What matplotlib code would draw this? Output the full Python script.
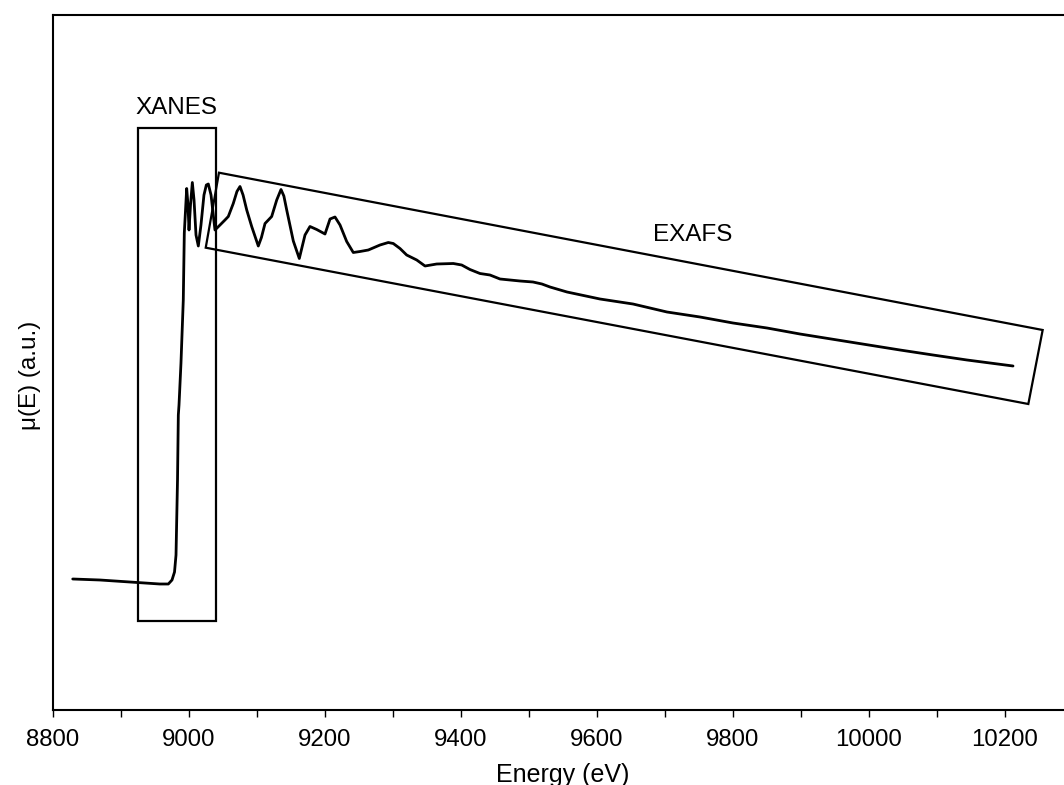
import matplotlib as mpl
mpl.use("Agg")
import matplotlib.pyplot as plt
from matplotlib.patches import Polygon, Rectangle
from matplotlib.ticker import MultipleLocator, NullLocator

mpl.rcParams["font.family"] = ["Liberation Sans", "DejaVu Sans"]

# spectrum (energy in eV, mu in arbitrary units)
energy = [8829, 8869, 8913, 8957, 8969.6, 8975, 8978.7, 8980.9, 8983.1, 8984.3,
          8985.3, 8986, 8988.2, 8991.6, 8993.1, 8996.6, 8998.5, 9000, 9002.2, 9004.9,
          9007.4, 9010.3, 9013.7, 9017.6, 9022, 9025.5, 9028.4, 9032.4, 9038.2, 9045.6,
          9052.9, 9057.8, 9065.1, 9070.5, 9075, 9079.5, 9084.9, 9092.2, 9101.9, 9106.5,
          9111.8, 9121.6, 9129, 9135.3, 9139.5, 9143.7, 9153.4, 9162.2, 9170.6, 9177.9,
          9187.8, 9200, 9207.4, 9214.7, 9222.1, 9231.9, 9241.6, 9251.5, 9263.7, 9280.9,
          9293.1, 9300.4, 9310.3, 9320.1, 9334.9, 9347.1, 9364.3, 9388.7, 9401, 9413.2,
          9427.9, 9442.6, 9457.4, 9486.8, 9505.9, 9519, 9530.9, 9555.9, 9604.4, 9652.9,
          9702.9, 9751.5, 9800, 9850, 9898.5, 9972, 10045.6, 10094.1, 10144.1, 10211.8]
mu = [0.262, 0.260, 0.256, 0.252, 0.252, 0.260, 0.276, 0.31, 0.46, 0.59,
      0.61, 0.63, 0.694, 0.82, 0.954, 1.043, 1.01, 0.96, 1.01, 1.055,
      1.02, 0.95, 0.928, 0.97, 1.03, 1.05, 1.052, 1.03, 0.96, 0.97,
      0.98, 0.987, 1.013, 1.037, 1.047, 1.03, 1.0, 0.967, 0.928, 0.945,
      0.973, 0.987, 1.02, 1.041, 1.028, 1.0, 0.938, 0.903, 0.95, 0.967,
      0.961, 0.952, 0.982, 0.986, 0.97, 0.937, 0.915, 0.917, 0.92, 0.93,
      0.935, 0.933, 0.923, 0.91, 0.9, 0.888, 0.892, 0.893, 0.89, 0.881,
      0.873, 0.87, 0.862, 0.858, 0.856, 0.852, 0.846, 0.836, 0.822, 0.812,
      0.796, 0.786, 0.774, 0.764, 0.752, 0.736, 0.72, 0.71, 0.70, 0.688]

# region boxes
xanes_box = (8924.6, 0.178, 9039.7 - 8924.6, 1.1646 - 0.178)  # x, y, w, h
exafs_box = [(9044.1, 1.0746), (10255.4, 0.76), (10234.3, 0.612), (9024.6, 0.9246)]

fig = plt.figure(figsize=(10.64, 7.85), dpi=100)
ax = fig.add_axes([53 / 1064, 75 / 785, 1020 / 1064, 695 / 785])

ax.plot(energy, mu, color="black", lw=2.0, solid_joinstyle="round",
        solid_capstyle="round")

ax.add_patch(Rectangle(xanes_box[:2], xanes_box[2], xanes_box[3],
                       fill=False, ec="black", lw=1.6))
ax.add_patch(Polygon(exafs_box, closed=True, fill=False, ec="black", lw=1.6))

ax.text(8980.9, 1.204, "XANES", fontsize=17.5, ha="center", va="center")
ax.text(9740.4, 0.95, "EXAFS", fontsize=17.5, ha="center", va="center")

ax.set_xlim(8800, 10300)
ax.set_ylim(0, 1.39)
ax.xaxis.set_major_locator(MultipleLocator(200))
ax.xaxis.set_minor_locator(MultipleLocator(100))
ax.yaxis.set_major_locator(NullLocator())
ax.tick_params(axis="x", which="both", direction="out", length=5, width=1.0,
               labelsize=17.3, pad=8.5)
for s in ax.spines.values():
    s.set_linewidth(1.5)
ax.spines["right"].set_visible(False)

fig.text(563 / 1064, 1 - 782 / 785, "Energy (eV)", fontsize=18,
         ha="center", va="baseline")
fig.text(30 / 1064, 1 - 375 / 785, "\u03bc(E) (a.u.)", fontsize=17.5,
         rotation=90, ha="center", va="center")

fig.savefig("out.png", dpi=100)
